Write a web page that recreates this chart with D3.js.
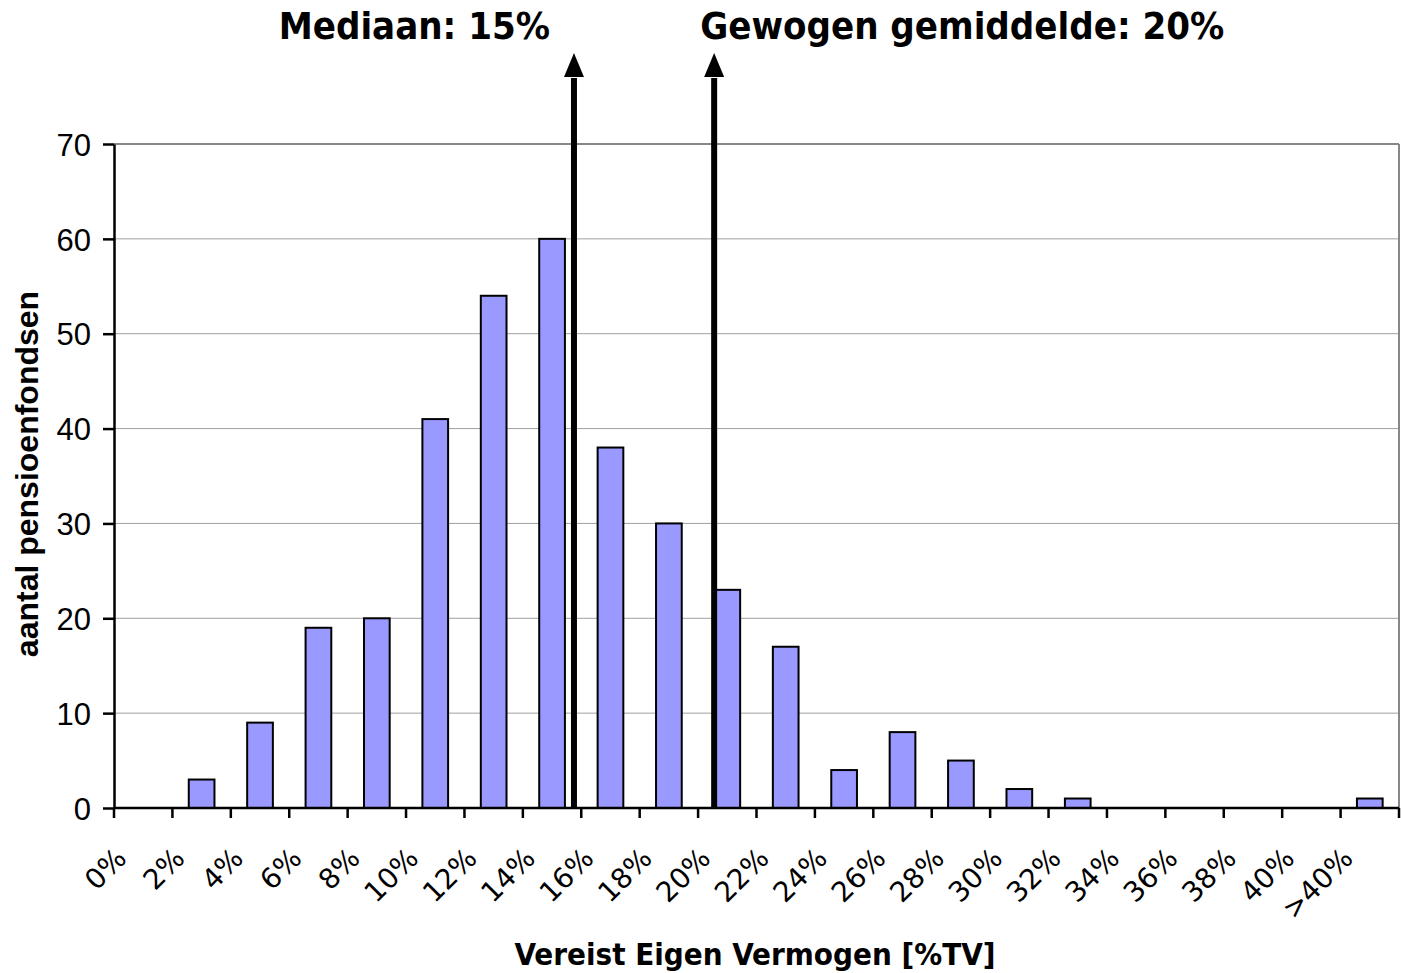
<!DOCTYPE html>
<html>
<head>
<meta charset="utf-8">
<script src="https://cdn.jsdelivr.net/npm/d3@7"></script>
<style>
	body { margin: 0; background: #fff; }
	svg { display: block; }
</style>
</head>
<body>
<div id="chart"></div>
<script>
	// bins (left edge label) and number of funds per bin
	const categories = ["0%", "2%", "4%", "6%", "8%", "10%", "12%", "14%", "16%", "18%", "20%",
		"22%", "24%", "26%", "28%", "30%", "32%", "34%", "36%", "38%", "40%", ">40%"]
	const counts = [0, 3, 9, 19, 20, 41, 54, 60, 38, 30, 23, 17, 4, 8, 5, 2, 1, 0, 0, 0, 0, 1]
	const yTicks = [0, 10, 20, 30, 40, 50, 60, 70]

	// markers on the % axis
	const markers = [
		{ label: "Mediaan: 15%", at: 15.75 },
		{ label: "Gewogen gemiddelde: 20%", at: 20.55 }
	]

	const width = 1401, height = 973
	const margin = { top: 144, right: 2, bottom: 165, left: 114 }
	const innerW = width - margin.left - margin.right
	const innerH = height - margin.top - margin.bottom

	const svg = d3.select("#chart").append("svg")
		.attr("width", width)
		.attr("height", height)

	const g = svg.append("g")
		.attr("transform", `translate(${margin.left},${margin.top})`)

	const x = d3.scaleBand().domain(categories).range([0, innerW]).paddingInner(0.56).paddingOuter(0.28)
	const xStep = d3.scaleBand().domain(categories).range([0, innerW])
	const xPct = d3.scaleLinear().domain([0, categories.length * 2]).range([0, innerW])
	const y = d3.scaleLinear().domain([0, 70]).range([innerH, 0])

	// gridlines
	g.selectAll(".grid")
		.data(yTicks.filter(d => d > 0))
		.enter().append("line")
		.attr("x1", 0).attr("x2", innerW)
		.attr("y1", d => y(d)).attr("y2", d => y(d))
		.style("stroke", d => d === 70 ? "#888" : "#a0a0a0")
		.style("stroke-width", d => d === 70 ? 2 : 1)

	// right border
	g.append("line")
		.attr("x1", innerW).attr("x2", innerW)
		.attr("y1", 0).attr("y2", innerH)
		.style("stroke", "#888")
		.style("stroke-width", 2)

	// bars
	g.selectAll(".bar")
		.data(categories.map((c, i) => ({ c, v: counts[i] })).filter(d => d.v > 0))
		.enter().append("rect")
		.attr("x", d => x(d.c))
		.attr("y", d => y(d.v))
		.attr("width", x.bandwidth())
		.attr("height", d => innerH - y(d.v))
		.style("fill", "#9999ff")
		.style("stroke", "#000")
		.style("stroke-width", 2)

	// y axis
	const yAxis = g.append("g")
		.call(d3.axisLeft(y).tickValues(yTicks).tickSize(11).tickSizeOuter(0))
	yAxis.select(".domain").style("stroke", "#000").style("stroke-width", 2.5)
	yAxis.selectAll(".tick line").style("stroke", "#000").style("stroke-width", 2.5)
	yAxis.selectAll("text")
		.attr("x", -23)
		.attr("dy", "0.36em")
		.style("font-family", "Liberation Sans, Arial, sans-serif")
		.style("font-size", "31px")
		.style("fill", "#000")

	// x axis baseline and ticks
	g.append("line")
		.attr("x1", 0).attr("x2", innerW)
		.attr("y1", innerH).attr("y2", innerH)
		.style("stroke", "#000").style("stroke-width", 2.5)

	const tickPos = categories.map(c => xStep(c)).concat([innerW])
	g.selectAll(".xtick")
		.data(tickPos)
		.enter().append("line")
		.attr("x1", d => d).attr("x2", d => d)
		.attr("y1", innerH).attr("y2", innerH + 10)
		.style("stroke", "#000").style("stroke-width", 2.5)

	g.selectAll(".xlabel")
		.data(categories)
		.enter().append("text")
		.attr("transform", d => `translate(${xStep(d) + 14},${innerH + 52}) rotate(-45)`)
		.attr("text-anchor", "end")
		.style("font-family", "DejaVu Sans, Verdana, sans-serif")
		.style("font-size", "28px")
		.text(d => d)

	// marker arrows
	const arrowTip = -91, headBase = -67
	markers.forEach(m => {
		const mx = xPct(m.at)
		g.append("line")
			.attr("x1", mx).attr("x2", mx)
			.attr("y1", innerH).attr("y2", headBase + 1)
			.style("stroke", "#000").style("stroke-width", 6)
		g.append("path")
			.attr("d", `M${mx - 10},${headBase} L${mx},${arrowTip} L${mx + 10},${headBase} Z`)
			.style("fill", "#000")
	})

	svg.append("text")
		.attr("x", margin.left + xPct(markers[0].at) - 24)
		.attr("y", 39)
		.attr("text-anchor", "end")
		.style("font-family", "DejaVu Sans Condensed, DejaVu Sans, sans-serif")
		.style("font-weight", "bold")
		.style("font-size", "38px")
		.text(markers[0].label)

	svg.append("text")
		.attr("x", margin.left + xPct(markers[1].at) - 14)
		.attr("y", 39)
		.attr("text-anchor", "start")
		.style("font-family", "DejaVu Sans Condensed, DejaVu Sans, sans-serif")
		.style("font-weight", "bold")
		.style("font-size", "38px")
		.text(markers[1].label)

	// axis titles
	svg.append("text")
		.attr("x", 755)
		.attr("y", 965)
		.attr("text-anchor", "middle")
		.style("font-family", "DejaVu Sans Condensed, DejaVu Sans, sans-serif")
		.style("font-weight", "bold")
		.style("font-size", "31px")
		.text("Vereist Eigen Vermogen [%TV]")

	svg.append("text")
		.attr("transform", `translate(38,${margin.top + innerH / 2 - 2}) rotate(-90)`)
		.attr("text-anchor", "middle")
		.style("font-family", "Liberation Sans, Arial, sans-serif")
		.style("font-weight", "bold")
		.style("font-size", "32px")
		.text("aantal pensioenfondsen")
</script>
</body>
</html>
